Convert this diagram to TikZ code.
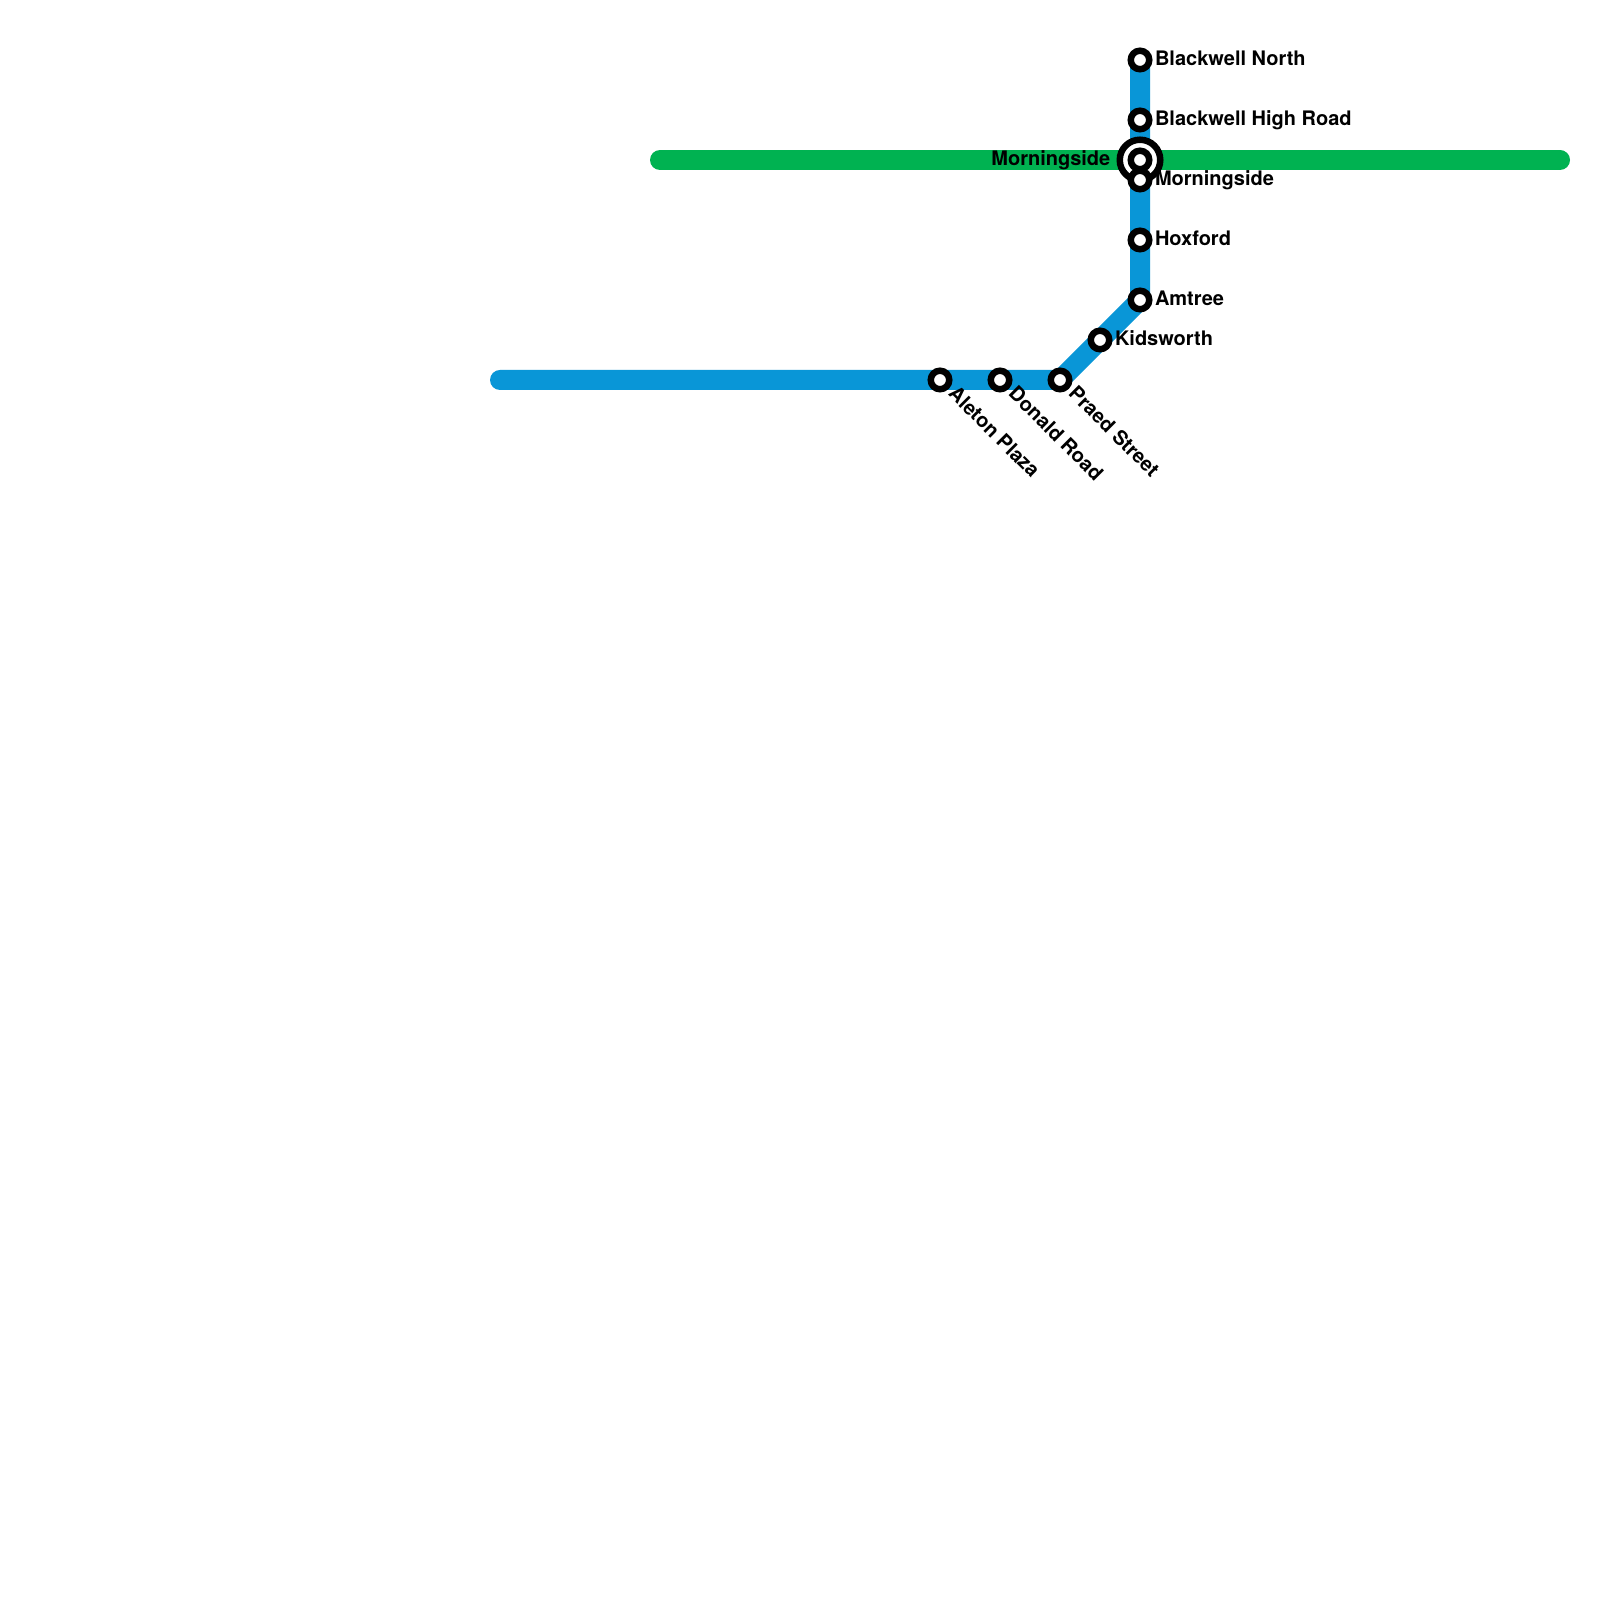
\documentclass[tikz,border=0pt]{standalone}
\usepackage{fontspec}
\setmainfont{TeX Gyre Heros}
\usetikzlibrary{backgrounds}
\definecolor{bluelinecol}{HTML}{0996D7}
\definecolor{greenlinecol}{HTML}{00B251}

\begin{document}
\begin{tikzpicture}
  % Define styles
  \tikzstyle{station} = [circle, draw=black, fill=white, line width=0.065cm, inner sep=0pt, minimum size=0.185cm]
  \tikzstyle{interchange} = [circle, draw=black, fill=white, line width=0.065cm, inner sep=0pt, minimum size=0.405cm]
  \tikzstyle{stnlabel} = [anchor=base west, inner sep=0pt, font=\bfseries\fontsize{5.69pt}{6.8pt}\selectfont]
  \tikzstyle{metroline} = [line width=0.2cm, line cap=round, line join=round]

  % Page
  \useasboundingbox (0,0) rectangle (16,16);

  % Free line ends
  \coordinate (bluewest) at (5,12.2);
  \coordinate (greenwest) at (6.6,14.4);
  \coordinate (greeneast) at (15.6,14.4);

  % Interchange
  \node[interchange] (morninghub) at (11.4,14.4) {};
  \node[station] (morninggreen) at (11.4,14.4) {};

  % Blue line stations
  \node[station] (blackwellnorth) at (11.4,15.4) {};
  \node[station] (blackwellhigh) at (11.4,14.8) {};
  \node[station] (morningblue) at (11.4,14.2) {};
  \node[station] (hoxford) at (11.4,13.6) {};
  \node[station] (amtree) at (11.4,13) {};
  \node[station] (kidsworth) at (11,12.6) {};
  \node[station] (praed) at (10.6,12.2) {};
  \node[station] (donald) at (10,12.2) {};
  \node[station] (aleton) at (9.4,12.2) {};

  % Labels
  \node[stnlabel] (lblnorth) at (11.543,15.345) {Blackwell North};
  \node[stnlabel] (lblhigh) at (11.543,14.745) {Blackwell High Road};
  \node[stnlabel] (lblmorning) at (11.543,14.145) {Morningside};
  \node[stnlabel] (lblhoxford) at (11.543,13.545) {Hoxford};
  \node[stnlabel] (lblamtree) at (11.543,12.945) {Amtree};
  \node[stnlabel] (lblkids) at (11.143,12.545) {Kidsworth};
  \node[stnlabel, rotate=-45] (lblpraed) at (10.67,12.055) {Praed Street};
  \node[stnlabel, rotate=-45] (lbldonald) at (10.07,12.055) {Donald Road};
  \node[stnlabel, rotate=-45] (lblaleton) at (9.47,12.055) {Aleton Plaza};
  \node[stnlabel, anchor=base east] (lblhub) at (11.11,14.345) {Morningside};

  % Lines
  \begin{pgfonlayer}{background}
    \fill[white] (0,0) rectangle (16,16);
    \draw[metroline, color=bluelinecol] (bluewest) -- (aleton.center) -- (donald.center) -- (praed.center) -- (kidsworth.center) -- (amtree.center) -- (hoxford.center) -- (morningblue.center) -- (blackwellhigh.center) -- (blackwellnorth.center);
    \draw[metroline, color=greenlinecol] (greenwest) -- (greeneast);
  \end{pgfonlayer}

\end{tikzpicture}
\end{document}
